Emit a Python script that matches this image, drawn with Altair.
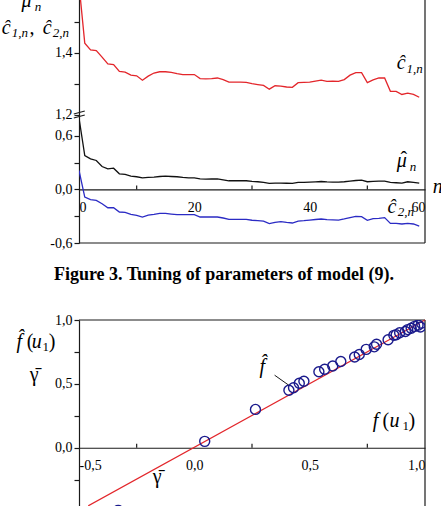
import altair as alt
import pandas as pd

SERIF = "Liberation Serif"
INK = "#1a1a1a"

# ---------------- upper figure: parameter estimates vs. step n ----------------
n_steps = list(range(60))
c1_hat = [1.62, 1.431, 1.409, 1.407, 1.386, 1.364, 1.362, 1.340, 1.338, 1.328,
          1.326, 1.312, 1.325, 1.335, 1.339, 1.339, 1.337, 1.333, 1.330, 1.330,
          1.330, 1.317, 1.316, 1.317, 1.319, 1.314, 1.306, 1.306, 1.306, 1.305,
          1.301, 1.298, 1.295, 1.283, 1.294, 1.293, 1.290, 1.289, 1.304, 1.305,
          1.306, 1.309, 1.312, 1.308, 1.309, 1.308, 1.314, 1.328, 1.336, 1.336,
          1.304, 1.313, 1.319, 1.319, 1.276, 1.276, 1.266, 1.270, 1.266, 1.257]
mu_hat = [0.80, 0.380, 0.343, 0.324, 0.257, 0.231, 0.238, 0.175, 0.168, 0.149,
          0.142, 0.130, 0.134, 0.138, 0.145, 0.149, 0.145, 0.142, 0.134, 0.130,
          0.130, 0.119, 0.115, 0.117, 0.119, 0.108, 0.097, 0.097, 0.097, 0.097,
          0.090, 0.086, 0.078, 0.067, 0.071, 0.071, 0.069, 0.067, 0.078, 0.080,
          0.082, 0.085, 0.089, 0.084, 0.082, 0.082, 0.086, 0.093, 0.100, 0.104,
          0.086, 0.090, 0.093, 0.093, 0.078, 0.075, 0.071, 0.086, 0.080, 0.071]
c2_hat = [0.212, -0.086, -0.115, -0.123, -0.160, -0.205, -0.205, -0.253, -0.257, -0.279,
          -0.290, -0.309, -0.287, -0.279, -0.268, -0.268, -0.276, -0.283, -0.283, -0.283,
          -0.283, -0.309, -0.309, -0.309, -0.309, -0.320, -0.335, -0.335, -0.335, -0.335,
          -0.345, -0.350, -0.354, -0.383, -0.369, -0.361, -0.370, -0.376, -0.354, -0.350,
          -0.343, -0.337, -0.331, -0.339, -0.341, -0.343, -0.331, -0.316, -0.302, -0.305,
          -0.346, -0.328, -0.324, -0.316, -0.380, -0.380, -0.387, -0.380, -0.387, -0.410]

series_names = ["c1", "mu", "c2"]
series_colors = ["#e3262b", "#111111", "#2b2bc4"]

# broken y axis: lower part [-0.6, 0.8] kept as is, upper part starts at 1.2, stretched
LOW_TOP = 0.8
UP_BASE = 1.2
GAP = 0.0336
STRETCH = 3.483
D_TOP = 2.4015


def disp(v):
    return v if v < 1.0 else LOW_TOP + GAP + (v - UP_BASE) * STRETCH


lo_ticks = [-0.6, -0.3, 0.0, 0.3, 0.6]
lo_labels = ["-0,6", "", "0,0", "", "0,6"]
up_ticks = [1.2, 1.3, 1.4, 1.5, 1.6]
up_labels = ["1,2", "", "1,4", "", "1,6"]
top_tick_pos = [round(t, 6) for t in lo_ticks] + [round(disp(t), 6) for t in up_ticks]
top_tick_txt = lo_labels + up_labels

n_labels = [0, 20, 40, 60]
n_minor = [10, 30, 50]

# annotations (n, value, text, kind)
top_notes = [
    (-9.95, 1.547, "\u03bc", "main_i"),
    (-7.68, 1.534, "n", "sub_i"),
    (-13.4, 1.460, "\u0109", "main_i"),
    (-11.67, 1.451, "1,n", "sub_i"),
    (-8.6, 1.460, ",", "main"),
    (-6.29, 1.460, "\u0109", "main_i"),
    (-4.56, 1.451, "2,n", "sub_i"),
    (55.08, 1.348, "\u0109", "main_i"),
    (56.8, 1.335, "1,n", "sub_i"),
    (55.08, 0.251, "\u03bc", "main_i"),
    (55.75, 0.262, "\u02c6", "main"),
    (57.34, 0.206, "n", "sub_i"),
    (61.33, -0.040, "n", "main_i"),
    (53.5, -0.261, "\u0109", "main_i"),
    (55.26, -0.298, "2,n", "sub_i"),
]

# ---------------- lower figure: estimated vs. true nonlinearity ----------------
f_true = [-0.33, 0.045, 0.265, 0.41, 0.43, 0.455, 0.475, 0.54, 0.565, 0.60,
          0.635, 0.695, 0.715, 0.745, 0.78, 0.79, 0.84, 0.865, 0.875, 0.89,
          0.915, 0.925, 0.94, 0.955, 0.97, 0.985, 0.98]
f_est = [-0.49, 0.05, 0.30, 0.45, 0.47, 0.505, 0.52, 0.595, 0.615, 0.64,
         0.675, 0.71, 0.73, 0.77, 0.79, 0.81, 0.845, 0.88, 0.885, 0.90,
         0.91, 0.925, 0.935, 0.95, 0.96, 0.975, 0.945]
gamma_x = [-0.46, 1.0]
gamma_y = [-0.455, 1.0]

u_labels = [-0.5, 0.0, 0.5, 1.0]
u_minor = [-0.25, 0.25, 0.75]
f_ticks = [-0.5, -0.25, 0.0, 0.25, 0.5, 0.75, 1.0]

bot_notes = [
    (-0.771, 0.778, "f\u0302", "main_i"),
    (-0.727, 0.778, "(", "main"),
    (-0.705, 0.778, "u", "main_i"),
    (-0.658, 0.757, "1", "sub"),
    (-0.631, 0.778, ")", "main"),
    (-0.714, 0.520, "\u03b3\u0304", "main"),
    (0.283, 0.583, "f\u0302", "main_i"),
    (0.773, 0.160, "f", "main_i"),
    (0.816, 0.160, "(", "main"),
    (0.846, 0.160, "u", "main_i"),
    (0.902, 0.137, "1", "sub"),
    (0.929, 0.160, ")", "main"),
    (-0.180, -0.278, "\u03b3\u0304", "main"),
]
leader = [(0.348, 0.568, 0.409, 0.490)]

CAPTION = "Figure 3. Tuning of parameters of model (9)."

# ---------------- tables ----------------
rows = []
for name, vals in zip(series_names, [c1_hat, mu_hat, c2_hat]):
    for n, v in zip(n_steps, vals):
        rows.append({"n": n, "d": disp(v), "s": name})
lines_df = pd.DataFrame(rows)


def label_expr(pos, txt):
    expr = "''"
    for p, t in reversed(list(zip(pos, txt))):
        expr = f"abs(datum.value - ({p})) < 1e-4 ? '{t}' : ({expr})"
    return expr


def num_label(vals):
    pos = [round(v, 6) for v in vals]
    txt = [f"{v:.1f}".replace(".", ",") if abs(v * 2 - round(v * 2)) < 1e-9 else "" for v in vals]
    return pos, label_expr(pos, txt)


X_TOP = dict(field="n", type="quantitative",
             scale=alt.Scale(domain=[0, 60], nice=False, zero=False),
             axis=alt.Axis(values=n_labels, format="d", offset=-53.6, ticks=False,
                           labelPadding=11, title=None))
Y_TOP = dict(field="d", type="quantitative",
             scale=alt.Scale(domain=[-0.6, D_TOP], nice=False, zero=False),
             axis=alt.Axis(values=top_tick_pos, labelExpr=label_expr(top_tick_pos, top_tick_txt),
                           title=None))


def xt(**kw):
    return alt.X(**{**X_TOP, **kw})


def yt(**kw):
    return alt.Y(**{**Y_TOP, **kw})


lines = alt.Chart(lines_df).mark_line(strokeWidth=1.3, clip=True).encode(
    x=xt(), y=yt(),
    color=alt.Color("s:N", scale=alt.Scale(domain=series_names, range=series_colors), legend=None),
    detail="s:N",
)

frame_df = pd.DataFrame([
    {"n": 60, "d": -0.6, "n2": 60, "d2": D_TOP},
    {"n": 0, "d": -0.6, "n2": 60, "d2": -0.6},
])
frame = alt.Chart(frame_df).mark_rule(color=INK, strokeWidth=1.2).encode(
    x=xt(), y=yt(), x2="n2:Q", y2="d2:Q")

minor_df = pd.DataFrame({"n": n_minor, "d": [0.0] * len(n_minor), "d2": [0.045] * len(n_minor)})
minor = alt.Chart(minor_df).mark_rule(color=INK, strokeWidth=1.2).encode(
    x=xt(), y=yt(), y2="d2:Q")

break_df = pd.DataFrame([
    {"n": -0.9, "d": 0.8447, "n2": 1.0, "d2": 0.878},
    {"n": -0.9, "d": 0.800, "n2": 1.0, "d2": 0.8335},
])
breaks = alt.Chart(break_df).mark_rule(color=INK, strokeWidth=1.2).encode(
    x=xt(), y=yt(), x2="n2:Q", y2="d2:Q")

tn = pd.DataFrame([{"n": n, "d": disp(v), "t": t, "k": k} for n, v, t, k in top_notes])

STYLES = {
    "main_i": dict(fontSize=20, fontStyle="italic"),
    "main": dict(fontSize=20, fontStyle="normal"),
    "sub_i": dict(fontSize=13, fontStyle="italic"),
    "sub": dict(fontSize=13, fontStyle="normal"),
}


def note_layers(df, xf, yf):
    out = []
    for k, st in STYLES.items():
        part = df[df["k"] == k]
        if len(part) == 0:
            continue
        out.append(alt.Chart(part).mark_text(font=SERIF, align="left", baseline="alphabetic",
                                             color="black", **st).encode(x=xf(), y=yf(), text="t:N"))
    return out


top = alt.layer(frame, minor, breaks, lines, *note_layers(tn, xt, yt)).properties(width=346, height=268)

# ---------------- lower chart ----------------
fy_pos, fy_expr = num_label(f_ticks)
X_BOT = dict(field="u", type="quantitative",
             scale=alt.Scale(domain=[-0.5, 1.0], nice=False, zero=False),
             axis=alt.Axis(values=u_labels, labelExpr=num_label(u_labels)[1], offset=-70.26,
                           ticks=False, labelPadding=11, title=None))
Y_BOT = dict(field="f", type="quantitative",
             scale=alt.Scale(domain=[-0.55, 1.0], nice=False, zero=False),
             axis=alt.Axis(values=fy_pos, labelExpr=fy_expr, title=None))


def xb(**kw):
    return alt.X(**{**X_BOT, **kw})


def yb(**kw):
    return alt.Y(**{**Y_BOT, **kw})


bframe_df = pd.DataFrame([
    {"u": -0.5, "f": 1.0, "u2": 1.0, "f2": 1.0},
    {"u": 1.0, "f": -0.55, "u2": 1.0, "f2": 1.0},
])
bframe = alt.Chart(bframe_df).mark_rule(color=INK, strokeWidth=1.2).encode(
    x=xb(), y=yb(), x2="u2:Q", y2="f2:Q")

bminor_df = pd.DataFrame({"u": u_minor, "f": [0.0] * len(u_minor), "f2": [0.031] * len(u_minor)})
bminor = alt.Chart(bminor_df).mark_rule(color=INK, strokeWidth=1.2).encode(
    x=xb(), y=yb(), y2="f2:Q")

gamma = alt.Chart(pd.DataFrame({"u": gamma_x, "f": gamma_y})).mark_line(
    color="#e3262b", strokeWidth=1.2).encode(x=xb(), y=yb())

pts = alt.Chart(pd.DataFrame({"u": f_true, "f": f_est})).mark_point(
    shape="circle", filled=False, size=100, strokeWidth=1.4, color="#1a1a8c", opacity=1, clip=True
).encode(x=xb(), y=yb())

lead = alt.Chart(pd.DataFrame([{"u": a, "f": b, "u2": c, "f2": d} for a, b, c, d in leader])).mark_rule(
    color=INK, strokeWidth=1.0).encode(x=xb(), y=yb(), x2="u2:Q", y2="f2:Q")

bn = pd.DataFrame([{"u": x, "f": y, "t": t, "k": k} for x, y, t, k in bot_notes])

bottom = alt.layer(bframe, bminor, gamma, pts, lead, *note_layers(bn, xb, yb)).properties(
    width=346, height=198,
    title=alt.TitleParams(CAPTION, font=SERIF, fontSize=18, fontWeight="bold", color="black",
                          anchor="middle", frame="group", dx=-28, offset=15, baseline="alphabetic"),
)

chart = alt.vconcat(top, bottom, spacing=16).properties(
    padding={"left": 0, "top": -26, "right": -2, "bottom": -13}
).configure_view(stroke=None).configure_axis(
    labelFont=SERIF, labelFontSize=14, labelColor="black",
    domainColor=INK, tickColor=INK, domainWidth=1.2, tickWidth=1.2,
    tickSize=5, labelPadding=2, grid=False,
).configure_axisY(minExtent=79, maxExtent=79)

chart.save("out.html", embed_options={"renderer": "svg", "actions": False})
